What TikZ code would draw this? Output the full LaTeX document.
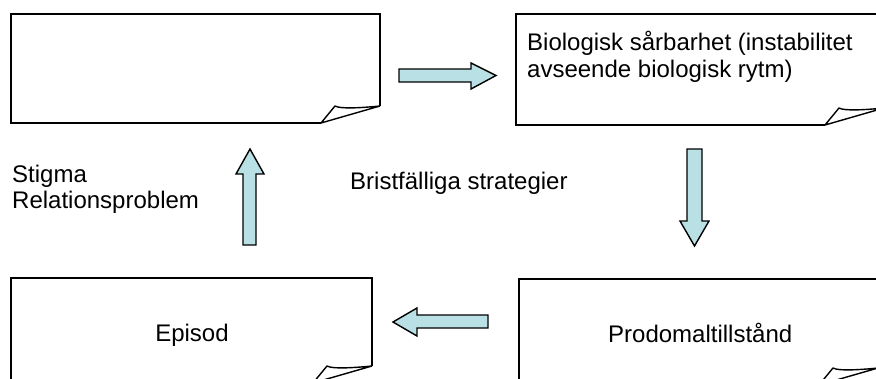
\documentclass[tikz,border=0pt]{standalone}
\usepackage{fontspec}
\setmainfont{Liberation Sans}
\definecolor{arrowfill}{RGB}{185,224,228}
\tikzset{
  paper/.style={draw=black, line width=1.4pt, fill=white, line join=miter},
  curl/.style={draw=black, line width=1.4pt, line join=round},
  blockarrow/.style={draw=black, line width=1.4pt, fill=arrowfill, line join=miter},
  lbl/.style={font=\fontsize{24}{27.6}\selectfont, inner sep=0pt, anchor=base west},
}
\begin{document}
\begin{tikzpicture}[x=1pt,y=-1pt]
\useasboundingbox (0,0) rectangle (876,378);
\clip (0,0) rectangle (876,378);
% top-left page
\draw[paper] (321,123) -- (11,123) -- (11,14) -- (380,14) -- (380,106);
\draw[curl] (380,106) -- (321,123) -- (335,106) .. controls (340,109) and (360,108) .. (380,106);
% top-right page
\draw[paper] (825,125) -- (516,125) -- (516,14) -- (884,14) -- (884,108);
\draw[curl] (884,108) -- (825,125) -- (839,108) .. controls (844,111) and (864,110) .. (884,108);
% bottom-left page
\draw[paper] (313,383) -- (11,383) -- (11,278) -- (372,278) -- (372,366);
\draw[curl] (372,366) -- (313,383) -- (327,366) .. controls (332,369) and (352,368) .. (372,366);
% bottom-right page
\draw[paper] (819,385) -- (519,385) -- (519,279) -- (878,279) -- (878,368);
\draw[curl] (878,368) -- (819,385) -- (833,368) .. controls (838,371) and (858,370) .. (878,368);
% texts
\node[lbl] (bio1) at (527,50) {Biologisk sårbarhet (instabilitet};
\node[lbl] (bio2) at (527,77) {avseende biologisk rytm)};
\node[lbl] (stig) at (12,182.5) {Stigma};
\node[lbl] (rel) at (12,208.5) {Relationsproblem};
\node[lbl] (brist) at (350,189) {Bristfälliga strategier};
\node[lbl, anchor=base] (epi) at (192,341) {Episod};
\node[lbl] (prod) at (608,342) {Prodomaltillstånd};
% block arrows
\draw[blockarrow] (399,69) -- (471,69) -- (471,63) -- (496,75.5) -- (471,89) -- (471,82) -- (399,82) -- cycle;
\draw[blockarrow] (687,149) -- (702,149) -- (702,221) -- (709,221) -- (694.5,246) -- (680,221) -- (687,221) -- cycle;
\draw[blockarrow] (488,315) -- (417,315) -- (417,308) -- (393,322) -- (417,336) -- (417,328) -- (488,328) -- cycle;
\draw[blockarrow] (243,245) -- (243,174) -- (236,174) -- (250,149) -- (264,174) -- (256,174) -- (256,245) -- cycle;
\end{tikzpicture}
\end{document}
